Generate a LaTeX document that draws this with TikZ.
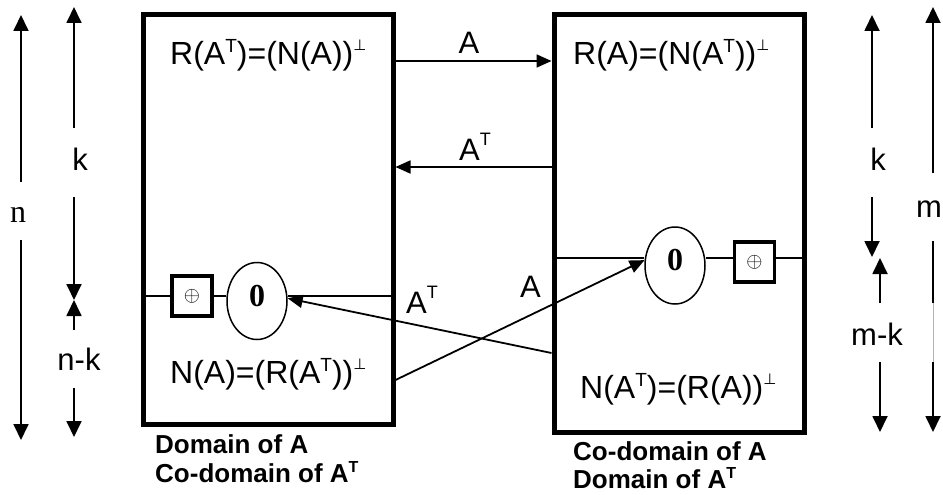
\documentclass[tikz,border=0pt]{standalone}
\usepackage{fontspec}
\setmainfont{Liberation Sans}
\newfontfamily\seriffont{Liberation Serif}
\newfontfamily\dejavu{DejaVu Sans}
\usetikzlibrary{arrows.meta,shapes.geometric}
\newcommand\supT{\raisebox{12pt}{\fontsize{19}{20}\selectfont T}}
\newcommand\supP{\raisebox{14pt}{\dejavu\fontsize{15}{16}\selectfont ⊥}}
\newcommand\supTlab{\raisebox{15pt}{\fontsize{18}{19}\selectfont T}}
\newcommand\supTb{\raisebox{10pt}{\fontsize{16}{17}\selectfont\bfseries T}}
\begin{document}
\begin{tikzpicture}[x=1pt,y=-1pt,
  bigbox/.style={draw,line width=5pt,inner sep=0pt,minimum width=250pt},
  formula/.style={anchor=base west,inner sep=0pt,font=\fontsize{32}{38}\selectfont},
  lab/.style={inner sep=0pt,font=\fontsize{31}{36}\selectfont},
  boldlab/.style={anchor=base west,inner sep=0pt,font=\fontsize{26}{30}\selectfont\bfseries},
  zeroell/.style={draw,ellipse,line width=1.5pt,minimum width=60pt,minimum height=77pt,inner sep=0pt},
  zerotxt/.style={inner sep=0pt,font=\seriffont\bfseries\fontsize{32}{34}\selectfont},
  sumbox/.style={draw,line width=3.5pt,minimum size=40pt,inner sep=0pt,font=\fontsize{20}{21}\selectfont},
  conn/.style={line width=1.8pt},
  arr/.style={line width=1.8pt,-{Triangle[length=15pt,width=13pt]}},
  dimarr/.style={line width=1.8pt,-{Triangle[length=16pt,width=15pt]}}
]
\useasboundingbox (0,0) rectangle (943,495);

% boxes
\node[bigbox,minimum height=409pt] (LB) at (268,219.5) {};
\node[bigbox,minimum height=417pt] (RB) at (679,223.5) {};

% formulas
\node[formula] (LT) at (170,65) {R(A\supT)=(N(A))\supP};
\node[formula] (LBt) at (170,383) {N(A)=(R(A\supT))\supP};
\node[formula] (RT) at (573,65) {R(A)=(N(A\supT))\supP};
\node[formula] (RBt) at (580,398) {N(A\supT)=(R(A))\supP};

% zero ellipses and sum boxes
\node[zeroell] (zl) at (257,301) {};
\node[zerotxt] (zlt) at (257,296) {0};
\node[zeroell] (zr) at (675,265.5) {};
\node[zerotxt] (zrt) at (675,260) {0};
\node[sumbox] (sl) at (192,296) {$\oplus$};
\node[sumbox] (sr) at (754.5,262) {$\oplus$};

% connections inside left box
\draw[conn] (LB.west |- sl) -- (sl.west);
\draw[conn] (sl.east) -- (sl.east -| zl.west);
\draw[conn] (LB.east |- sl) -- (zl.east |- sl);

% connections inside right box
\draw[conn] (RB.west |- 0,258) -- (zr.west |- 0,258);
\draw[conn] (zr.east |- 0,258) -- (sr.west |- 0,258);
\draw[conn] (sr.east |- 0,258) -- (RB.east |- 0,258);

% maps
\draw[arr] (LB.east |- 0,61) -- (RB.west |- 0,61);
\draw[arr] (RB.west |- 0,167) -- (LB.east |- 0,167);
\draw[arr] (RB.west |- 0,353) -- (zl.5);
\draw[arr] (LB.east |- 0,380) -- (zr.170);

% map labels
\node[lab,anchor=base] (nA1) at (469,54) {A};
\node[lab,anchor=base west] (nAT1) at (459,160) {A\supTlab};
\node[lab,anchor=base west] (nAT2) at (406,313) {A\supTlab};
\node[lab,anchor=base west] (nA2) at (520,297) {A};

% bottom captions
\node[boldlab] (cap1) at (155,453) {Domain of A};
\node[boldlab] (cap2) at (155,482) {Co-domain of A\supTb};
\node[boldlab] (cap3) at (573,460) {Co-domain of A};
\node[boldlab] (cap4) at (573,488) {Domain of A\supTb};

% left dimension arrows
\coordinate (n1) at (21,182); \coordinate (n2) at (21,15);
\coordinate (n3) at (21,240); \coordinate (n4) at (21,440);
\draw[dimarr] (n1) -- (n2);
\draw[dimarr] (n3) -- (n4);
\node[inner sep=0pt,font=\seriffont\fontsize{32}{34}\selectfont] (nlab) at (18,215) {n};

\coordinate (k1) at (74,128); \coordinate (k2) at (74,7);
\coordinate (k3) at (74,197); \coordinate (k4) at (74,300);
\coordinate (k5) at (74,330); \coordinate (k6) at (74,388); \coordinate (k7) at (74,437);
\draw[dimarr] (k1) -- (k2);
\draw[dimarr] (k3) -- (k4);
\draw[dimarr] (k5) -- (k4);
\draw[dimarr] (k6) -- (k7);
\node[lab] (klab) at (80,159) {k};
\node[lab] (nklab) at (79,359) {n-k};

% right dimension arrows
\coordinate (r1) at (872,128); \coordinate (r2) at (872,15);
\coordinate (r3) at (872,197); \coordinate (r4) at (872,257);
\coordinate (r5) at (880,303); \coordinate (r6) at (880,258);
\coordinate (r7) at (880,362); \coordinate (r8) at (880,432);
\draw[dimarr] (r1) -- (r2);
\draw[dimarr] (r3) -- (r4);
\draw[dimarr] (r5) -- (r6);
\draw[dimarr] (r7) -- (r8);
\node[lab] (krlab) at (878,159) {k};
\node[lab] (mklab) at (877,334) {m-k};

\coordinate (m1) at (933,173); \coordinate (m2) at (933,7);
\coordinate (m3) at (933,241); \coordinate (m4) at (933,303);
\coordinate (m5) at (933,362); \coordinate (m6) at (933,432);
\draw[dimarr] (m1) -- (m2);
\draw[conn] (m3) -- (m4);
\draw[gray!60,line width=0.8pt] (m4) -- (m5);
\draw[dimarr] (m5) -- (m6);
\node[lab] (mlab) at (929,209) {m};
\end{tikzpicture}
\end{document}
